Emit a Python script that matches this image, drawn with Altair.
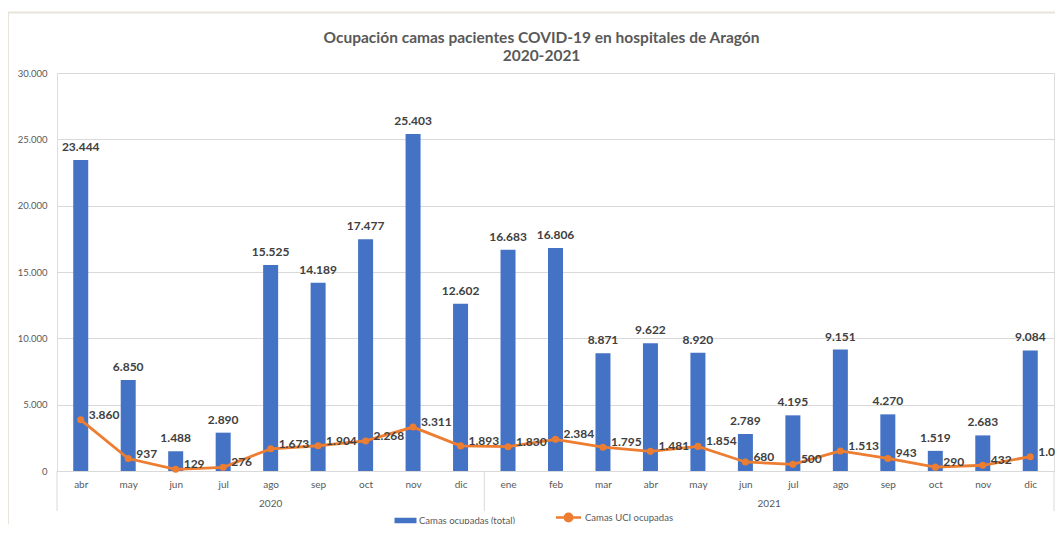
import altair as alt
import pandas as pd

months = ["abr", "may", "jun", "jul", "ago", "sep", "oct", "nov", "dic",
          "ene", "feb", "mar", "abr", "may", "jun", "jul", "ago", "sep", "oct", "nov", "dic"]
years = ["2020"] * 9 + ["2021"] * 12
camas_total = [23444, 6850, 1488, 2890, 15525, 14189, 17477, 25403, 12602,
               16683, 16806, 8871, 9622, 8920, 2789, 4195, 9151, 4270, 1519, 2683, 9084]
camas_uci = [3860, 937, 129, 276, 1673, 1904, 2268, 3311, 1893,
             1830, 2384, 1795, 1481, 1854, 680, 500, 1513, 943, 290, 432, 1080]
y_ticks = [0, 5000, 10000, 15000, 20000, 25000, 30000]
serie_total = "Camas ocupadas (total)"
serie_uci = "Camas UCI ocupadas"

BLUE = "#4472C4"
ORANGE = "#ED7D31"
GRAY = "#595959"
DARK = "#404040"
GRID = "#d9d9d9"
FRAME = "#e9e4da"
FONT = "Lato"


def es(v):
    return f"{v:,}".replace(",", ".")


n = len(months)
df = pd.DataFrame({"idx": list(range(n)), "mes": months, "anio": years,
                   "total": camas_total, "uci": camas_uci})
df["total_lbl"] = df["total"].map(es)
df["uci_lbl"] = df["uci"].map(es)
df["s_total"] = serie_total
df["s_uci"] = serie_uci

grp = df.groupby("anio")["idx"].agg(["min", "max"]).reset_index()
grp["center"] = (grp["min"] + grp["max"]) / 2
bounds = sorted(set((grp["min"] - 0.5).tolist() + (grp["max"] + 0.5).tolist()))
bdf = pd.DataFrame({"b": bounds})

W, H = 997, 398
PL, PT, PR, PB = 49, 65, 1, 53
xscale = alt.Scale(domain=[-0.5, n - 0.5], nice=False, zero=False, padding=0)
yscale = alt.Scale(domain=[0, 30000], nice=False, zero=True, padding=0)

label_expr = "[" + ",".join(f"'{m}'" for m in months) + "][datum.value]"

base = alt.Chart(df)

bars = base.mark_bar(size=15).encode(
    x=alt.X("idx:Q", scale=xscale, title=None,
            axis=alt.Axis(values=list(range(n)), labelExpr=label_expr, grid=False,
                          ticks=False, domainColor=GRID, labelPadding=8, labelFontSize=10,
                          labelColor=GRAY, labelFont=FONT, labelFlush=False,
                          labelOverlap=False)),
    y=alt.Y("total:Q", scale=yscale, title=None,
            axis=alt.Axis(values=y_ticks,
                          labelExpr="replace(format(datum.value, ','), ',', '.')",
                          domain=False, ticks=False, gridColor=GRID, labelPadding=10,
                          labelFontSize=9.5, labelColor=GRAY, labelFont=FONT)),
    color=alt.Color("s_total:N",
                    scale=alt.Scale(domain=[serie_total], range=[BLUE]),
                    legend=alt.Legend(orient="none", legendX=343, legendY=442, title=None,
                                      symbolType="M-2,-0.5H2V0.5H-2Z", symbolSize=121,
                                      labelFontSize=9.5, labelColor=GRAY, labelFont=FONT,
                                      labelOffset=8, padding=0, symbolStrokeWidth=0)),
)

bar_text = base.mark_text(baseline="bottom", dy=-6, fontSize=12, fontWeight="bold",
                          color=DARK, font=FONT).encode(
    x=alt.X("idx:Q", scale=xscale, title=None),
    y=alt.Y("total:Q", scale=yscale, title=None),
    text="total_lbl:N",
)

line = base.mark_line(strokeWidth=2.8).encode(
    x=alt.X("idx:Q", scale=xscale, title=None),
    y=alt.Y("uci:Q", scale=yscale, title=None),
    stroke=alt.Stroke("s_uci:N",
                      scale=alt.Scale(domain=[serie_uci], range=[ORANGE]),
                      legend=alt.Legend(orient="none", legendX=504, legendY=437, title=None,
                                        symbolType="M-2,0H2M0.6,0A0.6,0.6,0,1,1,-0.6,0A0.6,0.6,0,1,1,0.6,0",
                                        symbolSize=156, symbolFillColor=ORANGE,
                                        symbolStrokeWidth=2.5,
                                        labelFontSize=9.5, labelColor=GRAY, labelFont=FONT,
                                        labelOffset=9, padding=0)),
)

points = base.mark_circle(size=50, color=ORANGE, opacity=1).encode(
    x=alt.X("idx:Q", scale=xscale, title=None),
    y=alt.Y("uci:Q", scale=yscale, title=None),
)

uci_text = base.mark_text(align="left", baseline="middle", dx=8, dy=-5, fontSize=12,
                          fontWeight="bold", color=DARK, font=FONT).encode(
    x=alt.X("idx:Q", scale=xscale, title=None),
    y=alt.Y("uci:Q", scale=yscale, title=None),
    text="uci_lbl:N",
)

year_text = alt.Chart(grp).mark_text(baseline="middle", fontSize=10, color=GRAY,
                                     font=FONT).encode(
    x=alt.X("center:Q", scale=xscale, title=None),
    y=alt.value(H + 33),
    text="anio:N",
)

seps = alt.Chart(bdf).mark_rule(color=GRID, strokeWidth=1).encode(
    x=alt.X("b:Q", scale=xscale, title=None),
    y=alt.value(H),
    y2=alt.value(H + 40),
)

# decorative outer frame of the original chart image (top and left edges)
frame_top = alt.Chart(pd.DataFrame({"k": [0]})).mark_rule(color=FRAME, strokeWidth=2).encode(
    x=alt.value(-PL), x2=alt.value(W + PR), y=alt.value(-60.5))
frame_left = alt.Chart(pd.DataFrame({"k": [0]})).mark_rule(color=FRAME, strokeWidth=2).encode(
    x=alt.value(-PL), y=alt.value(-60.5), y2=alt.value(H + PB))

chart = alt.layer(frame_top, frame_left, bars, seps, line, points, bar_text, uci_text,
                  year_text).properties(
    width=W, height=H,
    autosize=alt.AutoSizeParams(type="none"),
    padding={"left": PL, "top": PT, "right": PR, "bottom": PB},
    title=alt.TitleParams(["Ocupación camas pacientes COVID-19 en hospitales de Aragón",
                           "2020-2021"],
                          fontSize=15.5, font=FONT, fontWeight="bold", color=GRAY,
                          anchor="middle", frame="group", offset=-53, lineHeight=18, dx=-14),
).resolve_scale(color="independent").configure_view(stroke=None).configure(background="white")

chart.save("out.html", embed_options={"renderer": "svg", "actions": False})
